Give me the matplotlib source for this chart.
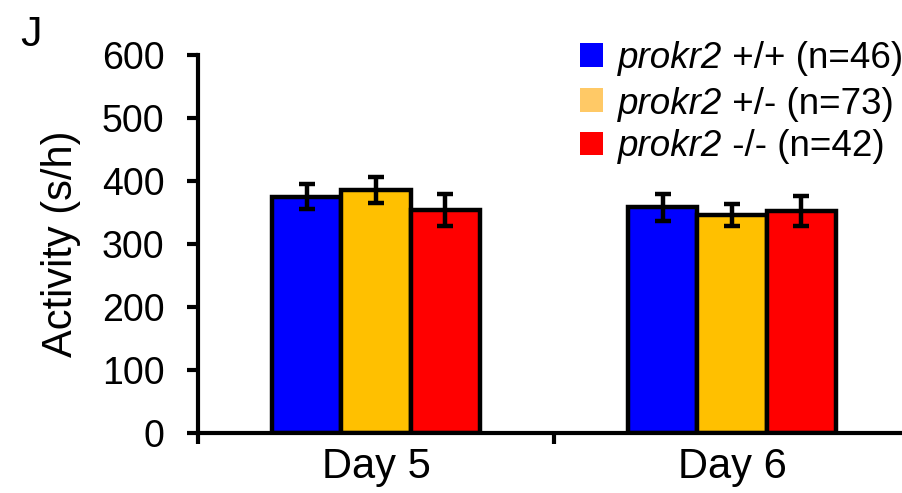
import matplotlib
matplotlib.use("Agg")
import matplotlib.pyplot as plt
from matplotlib.patches import Rectangle
import numpy as np

plt.rcParams["font.family"] = ["Liberation Sans", "DejaVu Sans"]

days = ["Day 5", "Day 6"]
genotypes = ["+/+", "+/-", "-/-"]
n_animals = [46, 73, 42]
wt_mean = [375, 358]
het_mean = [386, 346]
ko_mean = [354, 352]
wt_sem = [20, 21]
het_sem = [21, 18]
ko_sem = [25, 24]

bar_colors = ["#0000FF", "#FFC000", "#FF0000"]
legend_colors = ["#0000FF", "#FFC966", "#FF0000"]

W, H = 903, 493
fig = plt.figure(figsize=(W / 100, H / 100), dpi=100)
ax = fig.add_axes([198 / W, (H - 433) / H, (910 - 198) / W, (433 - 55) / H])

x = np.arange(len(days))
width = 0.194
means = [wt_mean, het_mean, ko_mean]
sems = [wt_sem, het_sem, ko_sem]
for i in range(3):
    ax.bar(x + (i - 1) * width, means[i], width, color=bar_colors[i],
           edgecolor="black", linewidth=3.2, zorder=2)
    ax.errorbar(x + (i - 1) * width, means[i], yerr=sems[i], fmt="none",
                ecolor="black", elinewidth=3.2, capsize=6, capthick=3.2, zorder=3)

ax.set_xlim(-0.5, 1.5)
ax.set_ylim(0, 600)
ax.set_yticks(range(0, 601, 100))
ax.set_xticks(x)
ax.set_xticklabels(days, fontsize=30)
ax.set_xticks([-0.5, 0.5, 1.5], minor=True)
ax.tick_params(axis="x", which="major", length=0, pad=10)
ax.tick_params(axis="x", which="minor", length=8, width=3, direction="out")
ax.tick_params(axis="y", length=8, width=3, direction="out", labelsize=27, pad=16)
for s in ["top", "right"]:
    ax.spines[s].set_visible(False)
for s in ["left", "bottom"]:
    ax.spines[s].set_linewidth(3)
ax.spines["left"].set_bounds(0, 600)
ax.set_ylabel("Activity (s/h)", fontsize=30, labelpad=15)

# Legend: colour square, italic gene name, then genotype and sample size
row_y = [55, 100, 143]
for c, g, n, yc in zip(legend_colors, genotypes, n_animals, row_y):
    fig.patches.append(Rectangle((580 / W, 1 - (yc + 11.5) / H), 23 / W, 23 / H,
                                 transform=fig.transFigure, facecolor=c,
                                 edgecolor="none"))
    gene = fig.text(618 / W, 1 - yc / H, "prokr2", fontsize=26.5, style="italic",
                    va="center_baseline", ha="left")
    ax.annotate(f" {g} (n={n})", xy=(1, 0), xycoords=gene, fontsize=26.5,
                va="bottom", ha="left", annotation_clip=False)

fig.text(31 / W, 1 - 35 / H, "J", fontsize=31, va="center", ha="center")

fig.savefig("out.png", dpi=100)
